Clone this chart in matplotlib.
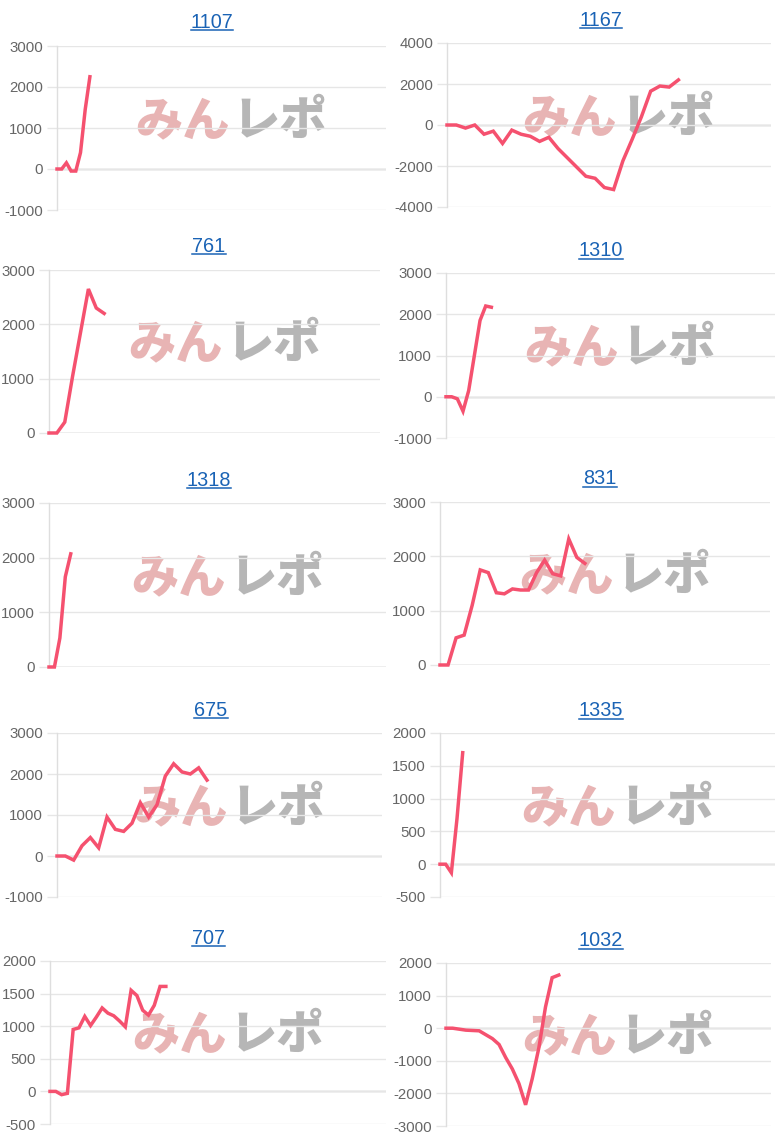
import numpy as np
import matplotlib
matplotlib.use("Agg")
import matplotlib.pyplot as plt
from matplotlib.lines import Line2D

# ---- data ----
titles = ["1107", "1167", "761", "1310", "1318", "831", "675", "1335", "707", "1032"]
s1107 = [0, 0, 150, -50, -50, 400, 1450, 2250]
s1167 = [0, 0, -150, 0, -450, -300, -900, -250, -450, -550, -800, -600, -1150, -1600,
         -2050, -2500, -2600, -3050, -3150, -1750, -700, 400, 1650, 1900, 1850, 2200]
s761 = [0, 0, 200, 1050, 1850, 2650, 2300, 2200]
s1310 = [0, 0, -50, -350, 150, 1000, 1850, 2200, 2170]
s1318 = [0, 0, 530, 1650, 2070]
s831 = [0, 0, 500, 550, 1100, 1750, 1700, 1330, 1310, 1400, 1380, 1380, 1700, 1930,
        1680, 1640, 2320, 1980, 1870]
s675 = [0, 0, -100, 250, 450, 200, 950, 650, 600, 800, 1300, 950, 1250, 1950, 2250,
        2050, 2000, 2150, 1850]
s1335 = [0, 0, -130, 700, 1700]
s707 = [0, 0, -50, -30, 950, 975, 1150, 1010, 1140, 1280, 1200, 1160, 1080, 990, 1550,
        1470, 1245, 1170, 1320, 1610, 1610]
s1032 = [0, 0, -30, -60, -70, -80, -200, -320, -500, -900, -1250, -1700, -2350, -1550,
         -600, 650, 1550, 1630]
series = [s1107, s1167, s761, s1310, s1318, s831, s675, s1335, s707, s1032]
# number of category slots on each x axis
slots = [70, 35, 42, 58, 62, 41, 39, 59, 58, 49]
# y ticks (min, max, step)
yticks = [(-1000, 3000, 1000), (-4000, 4000, 2000), (0, 3000, 1000), (-1000, 3000, 1000),
          (0, 3000, 1000), (0, 3000, 1000), (-1000, 3000, 1000), (-500, 2000, 500),
          (-500, 2000, 500), (-3000, 2000, 1000)]

# ---- layout (pixels) ----
W, H = 777, 1140
boxes = [(57, 386, 46, 210), (447, 771, 43, 207),
         (49, 380, 270, 433), (446, 775, 273, 438),
         (49, 386, 503, 667), (440, 770, 502, 665),
         (57, 382, 733, 897), (440, 775, 733, 897),
         (50, 386, 961, 1124), (446, 771, 963, 1126)]
title_pos = [(212, 22), (601, 20), (209, 246), (601, 251), (209, 480), (600, 479),
             (211, 710), (601, 711), (209, 938), (601, 941)]

plt.rcParams['font.family'] = ['Liberation Sans', 'DejaVu Sans']
plt.rcParams['axes.unicode_minus'] = False
fig = plt.figure(figsize=(W / 100, H / 100), dpi=100)

LINE = '#f5516f'
GRID = '#e6e6e6'
TITLE = '#1a63b5'

title_texts = []
for i in range(10):
    l, r, t, b = boxes[i]
    ax = fig.add_axes([l / W, 1 - b / H, (r - l) / W, (b - t) / H])
    lo, hi, st = yticks[i]
    ax.set_ylim(lo, hi)
    ax.set_xlim(0, slots[i])
    ax.set_yticks(np.arange(lo, hi + st / 2, st))
    ax.set_xticks([])
    ax.grid(axis='y', color=GRID, lw=1, zorder=0)
    ax.axhline(0, color='#b4b4b4', lw=1, zorder=1)
    for sp in ['top', 'right', 'bottom']:
        ax.spines[sp].set_visible(False)
    ax.spines['left'].set_color('#dedede')
    ax.spines['left'].set_linewidth(1)
    ax.tick_params(axis='y', length=7, width=1, color=GRID, labelcolor='#666666',
                   labelsize=10.8, pad=3)
    # watermark
    ax.text(0.525, 0.545, 'みん', transform=ax.transAxes, ha='right', va='center',
            fontsize=34, fontweight='heavy', color='#e8b4b4',
            family=['Noto Sans CJK JP'], zorder=1)
    ax.text(0.535, 0.545, 'レポ', transform=ax.transAxes, ha='left', va='center',
            fontsize=34, fontweight='heavy', color='#b6b6b6',
            family=['Noto Sans CJK JP'], zorder=1)
    y = series[i]
    ax.plot(np.arange(len(y)), y, color=LINE, lw=2.5, solid_joinstyle='miter',
            zorder=3, clip_on=False)
    tx, ty = title_pos[i]
    tt = fig.text(tx / W, 1 - ty / H, titles[i], ha='center', va='center',
                  fontsize=14.3, color=TITLE)
    title_texts.append(tt)

fig.canvas.draw()
r = fig.canvas.get_renderer()
for tt in title_texts:
    bb = tt.get_window_extent(r)
    yline = bb.y0 + 1.5
    fig.add_artist(Line2D([bb.x0 / W, bb.x1 / W], [yline / H, yline / H],
                          transform=fig.transFigure, color=TITLE, lw=1.1))

fig.savefig('out.png', dpi=100, facecolor='white')
